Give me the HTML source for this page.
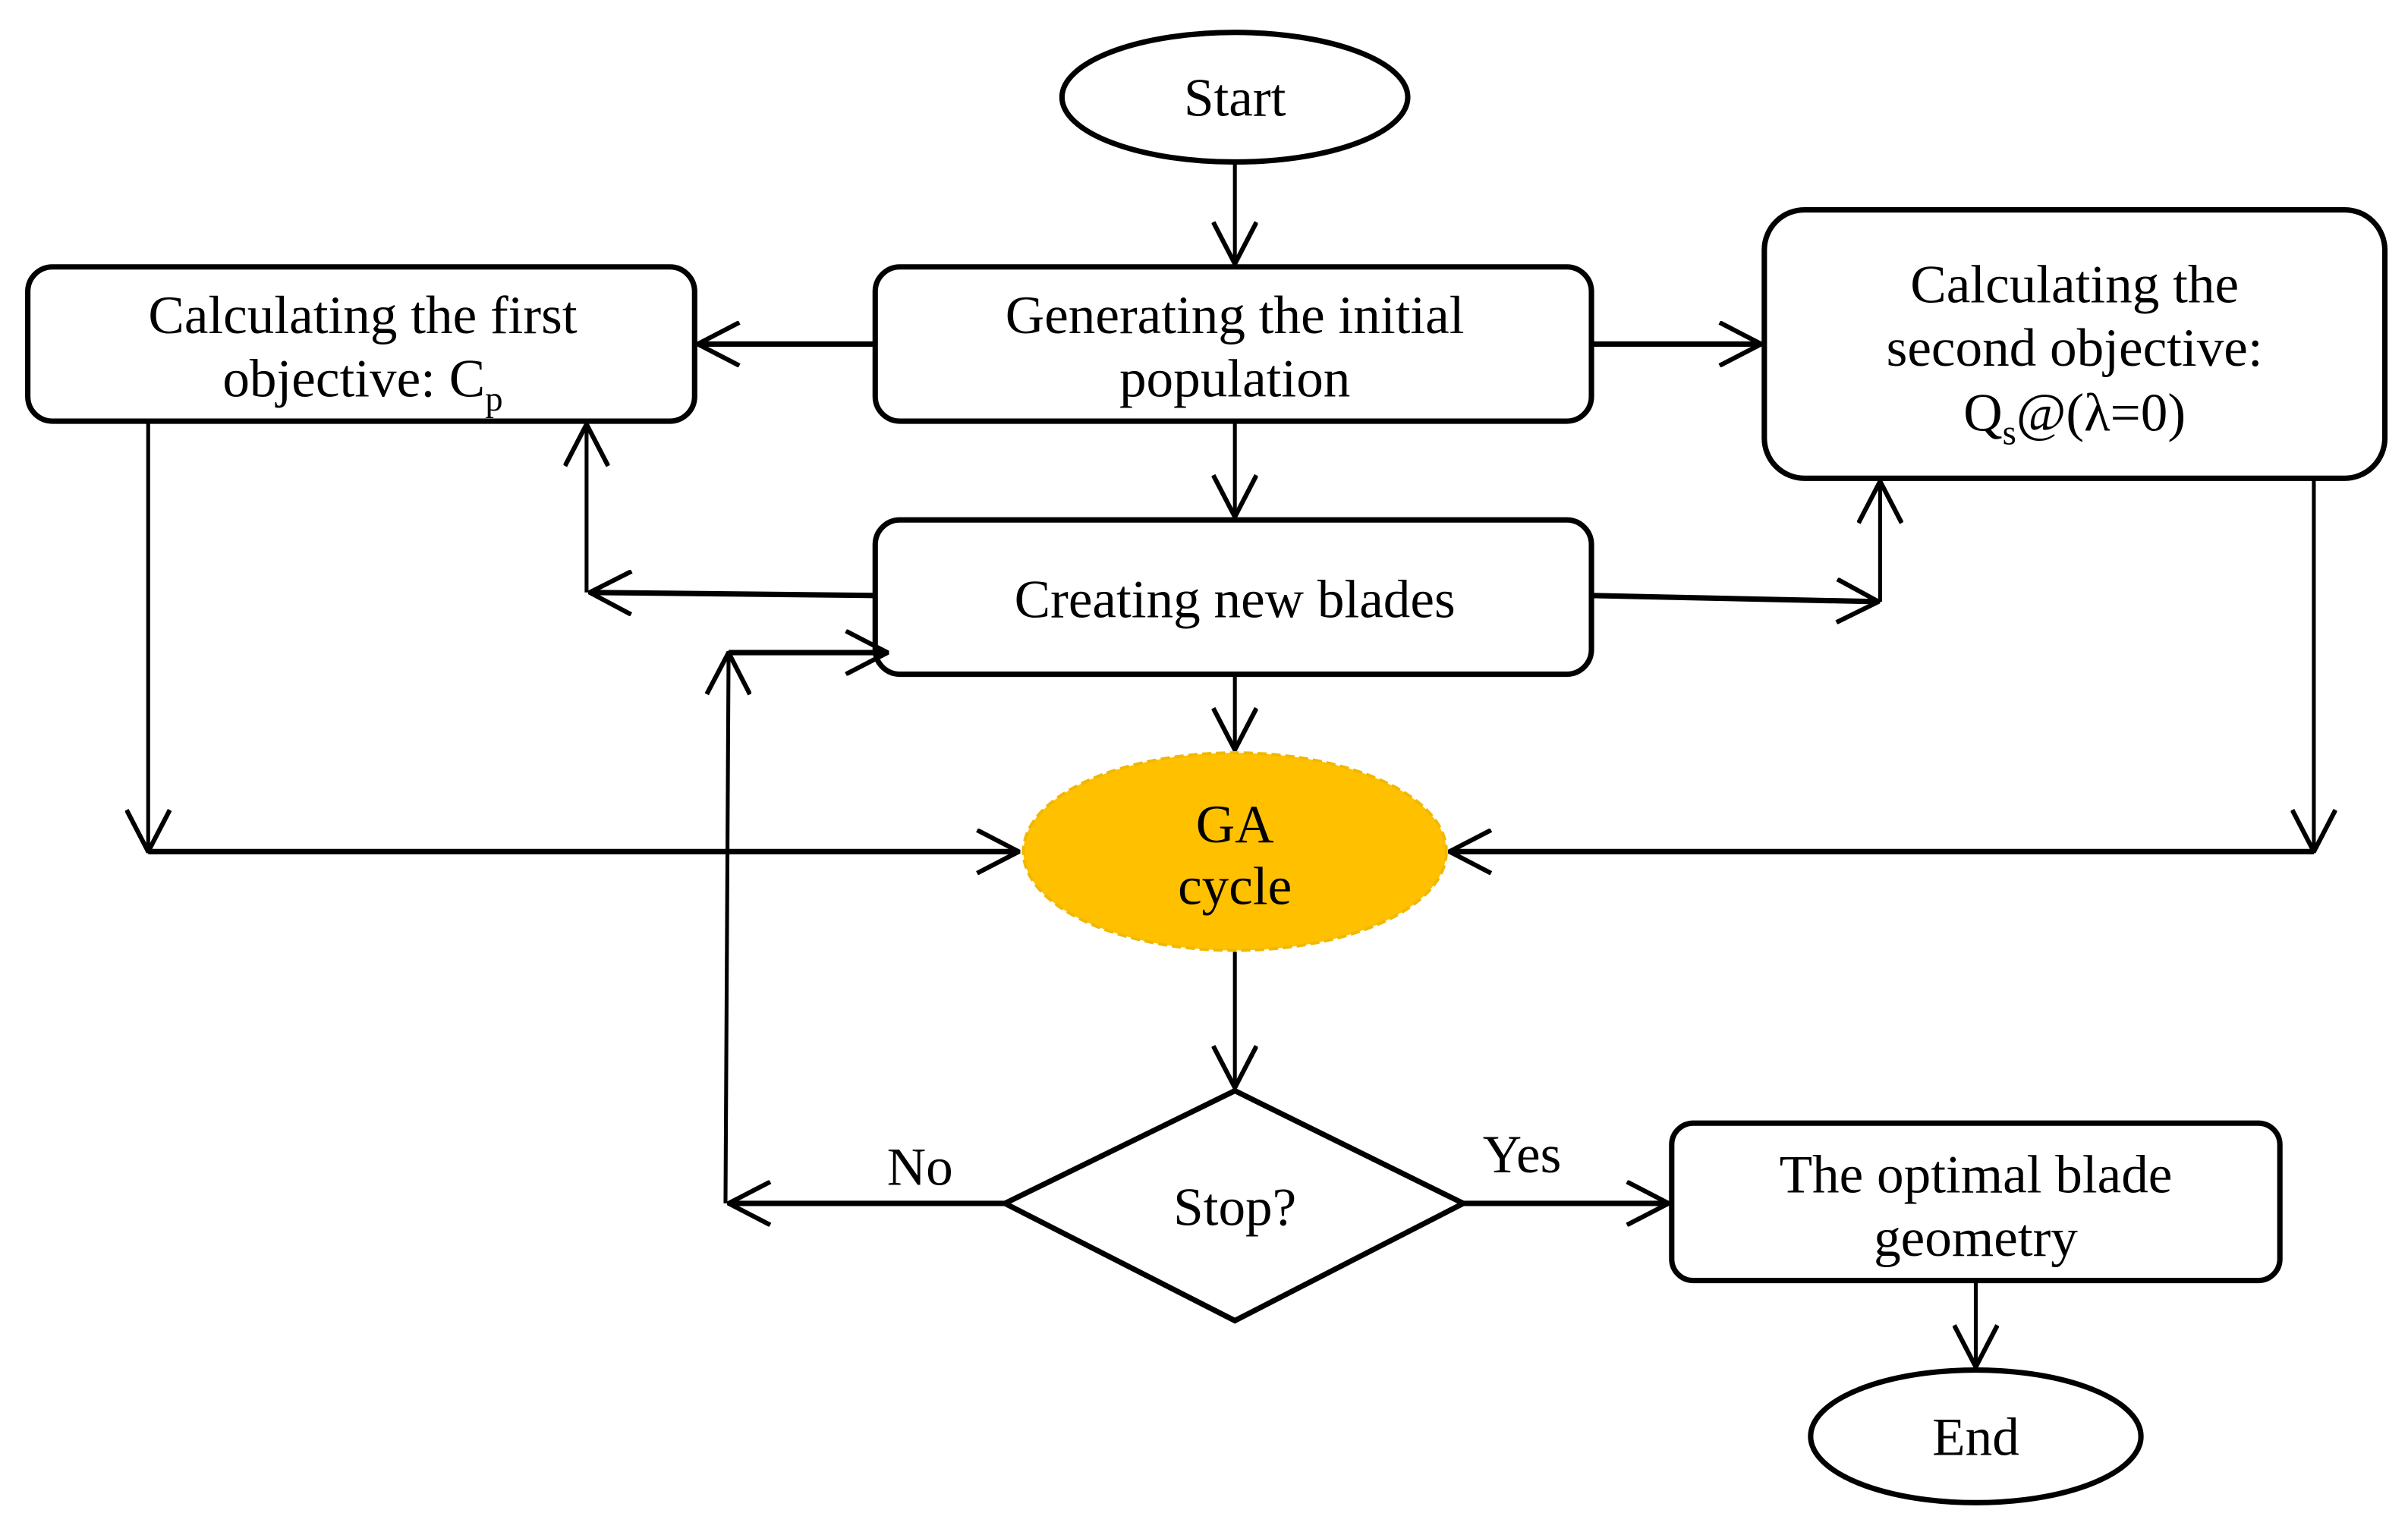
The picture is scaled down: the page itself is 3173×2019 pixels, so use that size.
<!DOCTYPE html>
<html><head><meta charset="utf-8"><style>
html,body{margin:0;padding:0;background:#fff;}
svg{display:block;}
text{font-family:"Liberation Serif",serif;font-size:35px;fill:#000;text-anchor:middle;}
</style></head><body>
<svg width="3173" height="2019" viewBox="0 0 1560 993" preserveAspectRatio="none" xmlns="http://www.w3.org/2000/svg">
<defs>
<marker id="a" viewBox="0 0 30 30" refX="29" refY="15" markerWidth="30" markerHeight="30" markerUnits="userSpaceOnUse" orient="auto">
<path d="M2,1 L29,15 L2,29" fill="none" stroke="#000" stroke-width="3"/>
</marker>
</defs>
<g fill="none" stroke="#000" stroke-width="3.5">
<ellipse cx="800" cy="63" rx="112" ry="42"/>
<rect x="567" y="173" width="464" height="100" rx="16"/>
<rect x="18" y="173" width="432" height="100" rx="16"/>
<rect x="1143" y="136" width="402" height="174" rx="26"/>
<rect x="567" y="337" width="464" height="100" rx="16"/>
<path d="M800,707 L948,780 L800,856 L651,780 Z"/>
<rect x="1083" y="728" width="394" height="102" rx="14"/>
<ellipse cx="1280" cy="931" rx="107" ry="43"/>
</g>
<ellipse cx="800" cy="552" rx="137" ry="64" fill="#FFC000" stroke="#F0B800" stroke-width="2" stroke-dasharray="6 3"/>
<g fill="none" stroke="#000" stroke-width="2.5">
<path d="M800,105 L800,171" marker-end="url(#a)"/>
<path d="M800,273 L800,335" marker-end="url(#a)"/>
<path d="M800,437 L800,486" marker-end="url(#a)"/>
<path d="M800,617 L800,705" marker-end="url(#a)"/>
<path d="M1280,830 L1280,886" marker-end="url(#a)"/>
<path d="M96,273 L96,552" marker-end="url(#a)"/>
<path d="M1499,310 L1499,552" marker-end="url(#a)"/>
<path d="M380,384 L380,275" marker-end="url(#a)"/>
<path d="M1218,390 L1218,312" marker-end="url(#a)"/>
<path d="M470,780 L472,423" marker-end="url(#a)"/>
</g>
<g fill="none" stroke="#000" stroke-width="3.5">
<path d="M567,223 L452,223" marker-end="url(#a)"/>
<path d="M1031,223 L1141,223" marker-end="url(#a)"/>
<path d="M567,386 L382,384" marker-end="url(#a)"/>
<path d="M1031,386 L1217,390" marker-end="url(#a)"/>
<path d="M96,552 L660,552" marker-end="url(#a)"/>
<path d="M1499,552 L939,552" marker-end="url(#a)"/>
<path d="M651,780 L472,780" marker-end="url(#a)"/>
<path d="M472,423 L575,423" marker-end="url(#a)"/>
<path d="M948,780 L1081,780" marker-end="url(#a)"/>
</g>
<text x="800" y="75">Start</text>
<text x="800" y="216">Generating the initial</text>
<text x="800" y="257">population</text>
<text x="235" y="216">Calculating the first</text>
<text x="235" y="257">objective: C<tspan font-size="23" dy="9">p</tspan></text>
<text x="1344" y="196">Calculating the</text>
<text x="1344" y="237">second objective:</text>
<text x="1344" y="279">Q<tspan font-size="23" dy="9">s</tspan><tspan dy="-9">@(λ=0)</tspan></text>
<text x="800" y="400">Creating new blades</text>
<text x="800" y="546">GA</text>
<text x="800" y="586">cycle</text>
<text x="800" y="794">Stop?</text>
<text x="596" y="768">No</text>
<text x="986" y="760">Yes</text>
<text x="1280" y="773">The optimal blade</text>
<text x="1280" y="814">geometry</text>
<text x="1280" y="943">End</text>
</svg>
</body></html>
